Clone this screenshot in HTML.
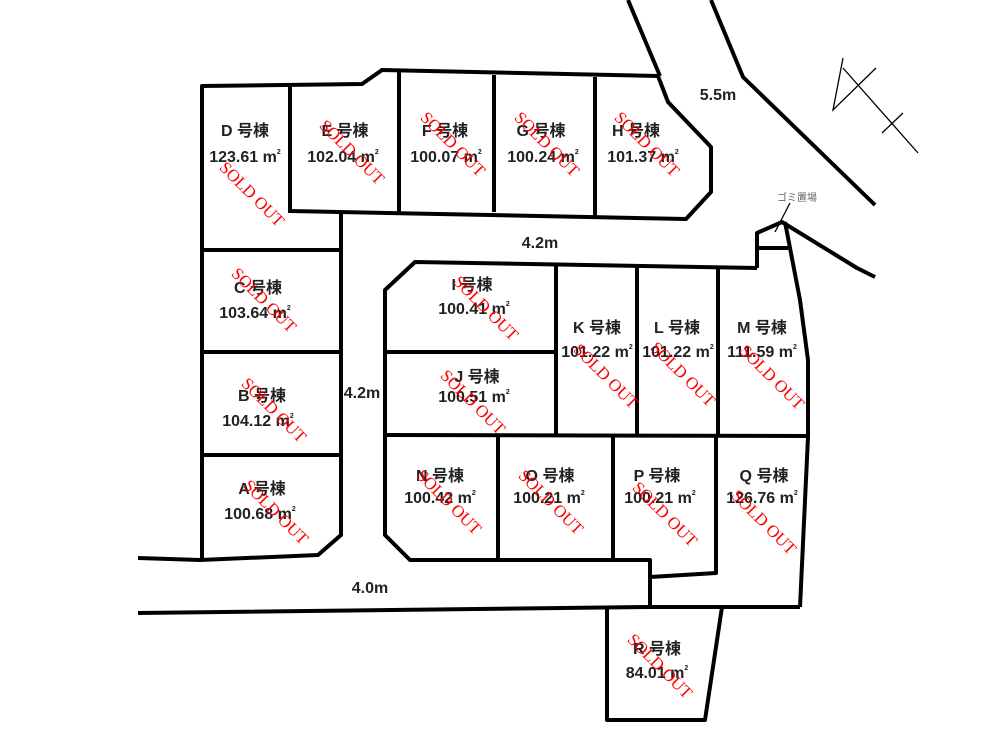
<!DOCTYPE html>
<html><head><meta charset="utf-8"><style>
html,body{margin:0;padding:0;background:#fff;}
svg{display:block;}
.l{fill:none;stroke:#000;stroke-width:4;stroke-linejoin:round;}
.t{font-family:"Liberation Sans","Noto Sans CJK JP",sans-serif;font-size:16px;fill:#222;text-anchor:middle;font-weight:bold;}
.s{font-family:"Liberation Serif",serif;font-size:17px;fill:#f00;text-anchor:middle;}
</style></head><body>
<svg width="1000" height="738" viewBox="0 0 1000 738">
<polyline class="l" points="202,558 202,86 362,84 382,70 658,76 668,102 711,147 711,192 686,219 290,211"/>
<line class="l" x1="290" y1="86" x2="290" y2="213"/>
<line class="l" x1="399" y1="70" x2="399" y2="213"/>
<line class="l" x1="494" y1="75" x2="494" y2="212"/>
<line class="l" x1="595" y1="77" x2="595" y2="217"/>
<line class="l" x1="202" y1="250" x2="341" y2="250"/>
<polyline class="l" points="341,212 341,535 318,555 200,560 138,558"/>
<line class="l" x1="202" y1="352" x2="340" y2="352"/>
<line class="l" x1="202" y1="455" x2="340" y2="455"/>
<line class="l" x1="628" y1="0" x2="660" y2="76"/>
<polyline class="l" points="711,0 743,77 875,205"/>
<polyline class="l" points="138,613 650,607 800,607"/>
<polyline class="l" points="757,268 415,262 385,290 385,535 410,560 650,560 650,607"/>
<polyline class="l" points="650,577 716,573 716,435"/>
<polyline class="l" points="757,268 757,233 782,222 857,268 875,277"/>
<polyline class="l" points="785,222 800,300 808,360 808,437 800,607"/>
<line class="l" x1="757" y1="248" x2="788" y2="248"/>
<line class="l" x1="385" y1="352" x2="556" y2="352"/>
<line class="l" x1="556" y1="265" x2="556" y2="435"/>
<line class="l" x1="637" y1="267" x2="637" y2="435"/>
<line class="l" x1="718" y1="267" x2="718" y2="435"/>
<line class="l" x1="385" y1="435" x2="808" y2="436"/>
<line class="l" x1="498" y1="435" x2="498" y2="560"/>
<line class="l" x1="613" y1="435" x2="613" y2="560"/>
<polyline class="l" points="607,607 607,720 705,720 722,607"/>
<g stroke="#000" stroke-width="1.3" fill="none">
<polyline points="843,58 833,110 876,68"/>
<line x1="843" y1="68" x2="918" y2="153"/>
<line x1="882" y1="133" x2="903" y2="113"/>
<line x1="790" y1="203" x2="775" y2="232"/>
</g>
<text x="797" y="201" font-family="Liberation Sans,'Noto Sans CJK JP',sans-serif" font-size="10" fill="#666" text-anchor="middle">ゴミ置場</text>
<g class="t">
<text x="718" y="100">5.5m</text>
<text x="540" y="248">4.2m</text>
<text x="362" y="398">4.2m</text>
<text x="370" y="593">4.0m</text>
</g>
<g class="t">
<text x="245" y="136">D 号棟</text><text x="245" y="162">123.61 m<tspan font-size="7" dy="-8">2</tspan></text>
<text x="345" y="136">E 号棟</text><text x="343" y="162">102.04 m<tspan font-size="7" dy="-8">2</tspan></text>
<text x="445" y="136">F 号棟</text><text x="446" y="162">100.07 m<tspan font-size="7" dy="-8">2</tspan></text>
<text x="541" y="136">G 号棟</text><text x="543" y="162">100.24 m<tspan font-size="7" dy="-8">2</tspan></text>
<text x="636" y="136">H 号棟</text><text x="643" y="162">101.37 m<tspan font-size="7" dy="-8">2</tspan></text>
<text x="258" y="293">C 号棟</text><text x="255" y="318">103.64 m<tspan font-size="7" dy="-8">2</tspan></text>
<text x="262" y="401">B 号棟</text><text x="258" y="426">104.12 m<tspan font-size="7" dy="-8">2</tspan></text>
<text x="262" y="494">A 号棟</text><text x="260" y="519">100.68 m<tspan font-size="7" dy="-8">2</tspan></text>
<text x="472" y="290">I 号棟</text><text x="474" y="314">100.41 m<tspan font-size="7" dy="-8">2</tspan></text>
<text x="477" y="382">J 号棟</text><text x="474" y="402">100.51 m<tspan font-size="7" dy="-8">2</tspan></text>
<text x="597" y="333">K 号棟</text><text x="597" y="357">101.22 m<tspan font-size="7" dy="-8">2</tspan></text>
<text x="677" y="333">L 号棟</text><text x="678" y="357">101.22 m<tspan font-size="7" dy="-8">2</tspan></text>
<text x="762" y="333">M 号棟</text><text x="762" y="357">111.59 m<tspan font-size="7" dy="-8">2</tspan></text>
<text x="440" y="481">N 号棟</text><text x="440" y="503">100.42 m<tspan font-size="7" dy="-8">2</tspan></text>
<text x="550" y="481">O 号棟</text><text x="549" y="503">100.21 m<tspan font-size="7" dy="-8">2</tspan></text>
<text x="657" y="481">P 号棟</text><text x="660" y="503">100.21 m<tspan font-size="7" dy="-8">2</tspan></text>
<text x="764" y="481">Q 号棟</text><text x="762" y="503">126.76 m<tspan font-size="7" dy="-8">2</tspan></text>
<text x="657" y="654">R 号棟</text><text x="657" y="678">84.01 m<tspan font-size="7" dy="-8">2</tspan></text>
</g>
<g class="s">
<text transform="translate(248,198) rotate(45)">SOLD OUT</text>
<text transform="translate(348,156) rotate(45)">SOLD OUT</text>
<text transform="translate(449,148) rotate(45)">SOLD OUT</text>
<text transform="translate(543,148) rotate(45)">SOLD OUT</text>
<text transform="translate(643,148) rotate(45)">SOLD OUT</text>
<text transform="translate(260,304) rotate(45)">SOLD OUT</text>
<text transform="translate(270,414) rotate(45)">SOLD OUT</text>
<text transform="translate(272,516) rotate(45)">SOLD OUT</text>
<text transform="translate(482,312) rotate(45)">SOLD OUT</text>
<text transform="translate(469,406) rotate(45)">SOLD OUT</text>
<text transform="translate(602,380) rotate(45)">SOLD OUT</text>
<text transform="translate(679,378) rotate(45)">SOLD OUT</text>
<text transform="translate(768,381) rotate(45)">SOLD OUT</text>
<text transform="translate(445,506) rotate(45)">SOLD OUT</text>
<text transform="translate(547,506) rotate(45)">SOLD OUT</text>
<text transform="translate(661,518) rotate(45)">SOLD OUT</text>
<text transform="translate(760,526) rotate(45)">SOLD OUT</text>
<text transform="translate(656,670) rotate(45)">SOLD OUT</text>
</g>
</svg>
</body></html>
